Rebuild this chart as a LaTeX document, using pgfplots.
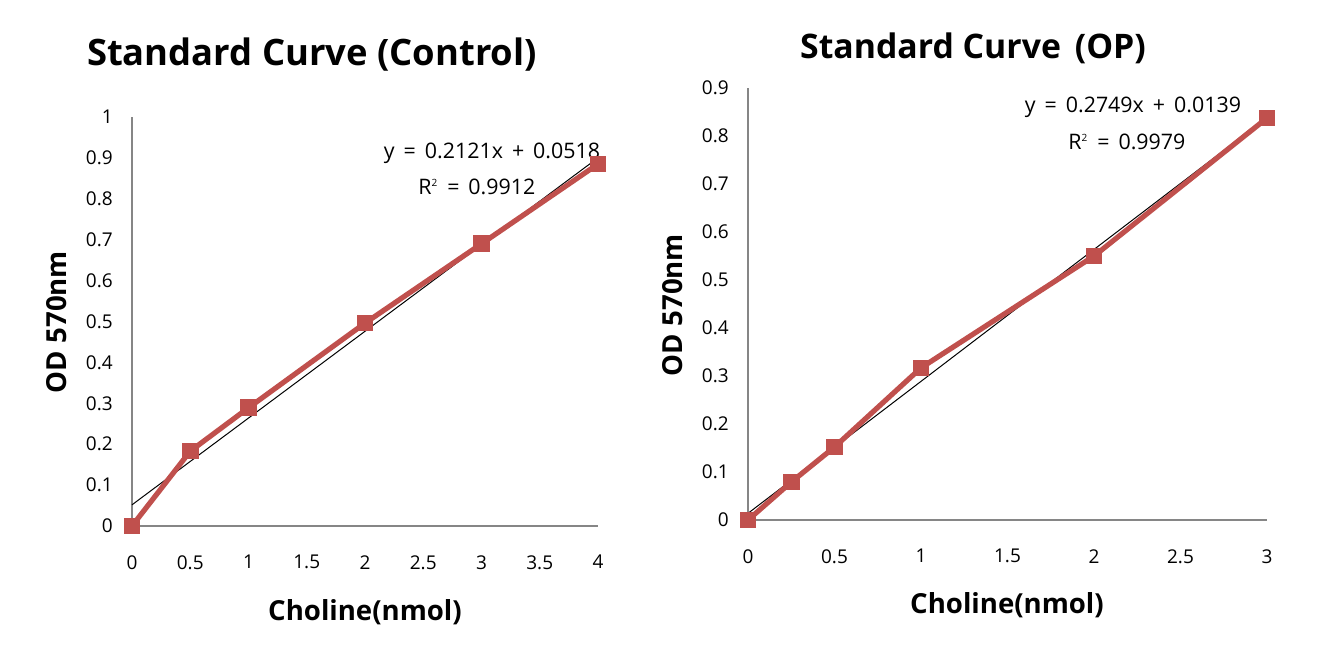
\documentclass[border=0pt]{standalone}
\usepackage{fontspec}
\setmainfont{Open Sans}
\usepackage{pgfplots}
\pgfplotsset{compat=1.18}
\definecolor{serred}{HTML}{C0504D}
\definecolor{axgray}{HTML}{868686}
\newcommand{\gap}{\hspace{0.42em}}
\begin{document}
\begin{tikzpicture}
\useasboundingbox (0,0) rectangle (660.5pt,331pt);
\pgfplotsset{
  every axis/.append style={
    scale only axis,
    axis lines=left,
    axis line style={axgray, line width=0.6pt, -},
    tick style={draw=none},
    clip=false,
    tick label style={font=\fontsize{9.5}{11}\selectfont},
    /pgf/number format/assume math mode=true,
    /pgf/number format/fixed,
    /pgf/number format/precision=2,
    yticklabel style={xshift=-4pt},
    xticklabel style={yshift=-9pt},
  }
}
% Left panel
\begin{axis}[
  at={(66pt,68pt)}, anchor=origin,
  width=233pt, height=204.5pt,
  xmin=0, xmax=4, ymin=0, ymax=1,
  xtick={0,0.5,...,4}, ytick={0,0.1,...,1.0},
  xticklabels={0,0.5,1,1.5,2,2.5,3,3.5,4},
  yticklabels={0,0.1,0.2,0.3,0.4,0.5,0.6,0.7,0.8,0.9,1},
]
\addplot[black, line width=0.5pt] coordinates {(0,0.0518) (4,0.9002)};
\addplot[serred, line width=2.6pt, mark=square*, mark size=3.9pt, mark options={solid, fill=serred, draw=serred, line width=0pt}]
  coordinates {(0,0) (0.5,0.183) (1,0.289) (2,0.496) (3,0.690) (4,0.885)};
\node[font=\fontsize{10.7}{12}\selectfont] at (axis cs:3.09,0.912) {y\gap=\gap0.2121x\gap+\gap0.0518};
\node[font=\fontsize{10.7}{12}\selectfont] at (axis cs:2.96,0.829) {R\textsuperscript{\tiny 2}\gap=\gap0.9912};
\end{axis}
% Right panel
\begin{axis}[
  at={(374pt,71pt)}, anchor=origin,
  width=259.5pt, height=216pt,
  xmin=0, xmax=3, ymin=0, ymax=0.9,
  xtick={0,0.5,1,1.5,2,2.5,3}, ytick={0,0.1,0.2,0.3,0.4,0.5,0.6,0.7,0.8,0.9},
  xticklabels={0,0.5,1,1.5,2,2.5,3},
  yticklabels={0,0.1,0.2,0.3,0.4,0.5,0.6,0.7,0.8,0.9},
]
\addplot[black, line width=0.5pt] coordinates {(0,0.0139) (3,0.8386)};
\addplot[serred, line width=2.6pt, mark=square*, mark size=3.9pt, mark options={solid, fill=serred, draw=serred, line width=0pt}]
  coordinates {(0,0) (0.25,0.079) (0.5,0.152) (1,0.317) (2,0.550) (3,0.8375)};
\node[font=\fontsize{10.7}{12}\selectfont] at (axis cs:2.225,0.860) {y\gap=\gap0.2749x\gap+\gap0.0139};
\node[font=\fontsize{10.7}{12}\selectfont] at (axis cs:2.19,0.7875) {R\textsuperscript{\tiny 2}\gap=\gap0.9979};
\end{axis}
% Titles and labels
\node[font=\bfseries\fontsize{18.2}{21}\selectfont] at (156pt,303.5pt) {Standard Curve (Control)};
\node[font=\bfseries\fontsize{16.9}{20}\selectfont] at (486.5pt,307pt) {Standard Curve\hspace{0.15em} (OP)};
\node[font=\bfseries\fontsize{13.8}{16}\selectfont, rotate=90] at (28.5pt,170pt) {OD 570nm};
\node[font=\bfseries\fontsize{13.8}{16}\selectfont, rotate=90] at (336.5pt,178.5pt) {OD 570nm};
\node[font=\bfseries\fontsize{13.8}{16}\selectfont] at (182.5pt,25pt) {Choline(nmol)};
\node[font=\bfseries\fontsize{13.8}{16}\selectfont] at (503.5pt,28.5pt) {Choline(nmol)};
\end{tikzpicture}
\end{document}
